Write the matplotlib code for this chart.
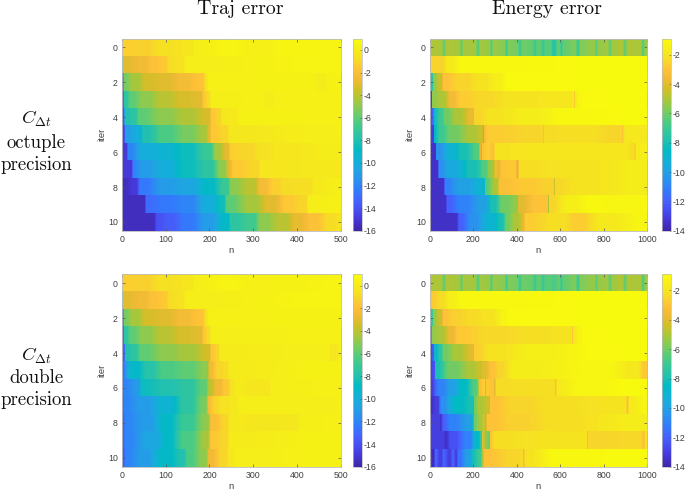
import numpy as np
import matplotlib
matplotlib.use('Agg')
import matplotlib.pyplot as plt
from matplotlib.colors import LinearSegmentedColormap, Normalize
from matplotlib.cm import ScalarMappable

plt.rcParams['font.family'] = ['Liberation Sans', 'DejaVu Sans']
plt.rcParams['mathtext.fontset'] = 'cm'
plt.rcParams['axes.unicode_minus'] = False

# Traj error, octuple precision : one list per iter
traj_oct_n = [
    [0, 50, 100, 160, 165, 250, 300, 400, 500],
    [0, 2, 3, 50, 70, 100, 105, 140, 145, 500],
    [0, 3, 5, 30, 60, 100, 140, 185, 190, 200, 440, 445, 465, 470, 500],
    [0, 3, 6, 20, 50, 100, 140, 180, 185, 200, 205, 320, 325, 345, 350, 500],
    [0, 4, 6, 30, 40, 100, 150, 200, 205, 225, 230, 260, 270, 500],
    [0, 5, 8, 40, 50, 100, 150, 190, 200, 205, 240, 245, 500],
    [0, 10, 15, 50, 100, 150, 200, 220, 240, 250, 290, 320, 360, 500],
    [0, 20, 25, 50, 100, 150, 200, 230, 245, 255, 310, 315, 500],
    [0, 30, 45, 100, 150, 200, 240, 250, 300, 320, 350, 375, 430, 440, 500],
    [0, 50, 55, 100, 150, 200, 230, 240, 300, 340, 380, 420, 425, 500],
    [0, 70, 80, 110, 150, 200, 240, 250, 300, 320, 370, 400, 440, 480, 500],
]
traj_oct_err = [
    [-1.3, -1.2, -0.6, -0.3, 0.2, 0.5, 0.3, 0.6, 0.5],
    [-7, -7, -3, -2.5, -1.8, -1.5, -0.8, -0.5, 0.2, 0.5],
    [-13, -13, -5.5, -4.5, -3.3, -3, -2.3, -1.7, -0.5, 0.3, 0.4, 0.1, 0.1, 0.4, 0.4],
    [-14, -13, -7.5, -6, -5, -4, -3.3, -3, -1.5, -0.8, 0.2, 0.3, 0.1, 0.1, 0.3, 0.3],
    [-14, -14, -8, -7.5, -6, -5, -4.3, -3.3, -1.5, -1, -0.2, -0.1, 0.4, 0.3],
    [-15, -14, -11, -10, -8, -6.5, -5.5, -4.5, -3, -1.5, -1, -0.2, 0.2],
    [-15, -15, -12, -10, -9.5, -8.5, -7, -4.5, -3, -1.2, -1, -0.6, -0.3, 0.1],
    [-15, -15, -12, -11, -10, -8.5, -7.5, -5, -3, -1.5, -1, -0.3, -0.1],
    [-15.5, -15, -12.5, -11, -10.5, -9, -7, -5, -4, -2.3, -1.3, -0.8, -0.7, -0.1, 0.2],
    [-15.5, -15.5, -13, -12.5, -12, -10, -8.5, -6, -4.5, -3, -1.5, -1, 0.2, 0.3],
    [-15.5, -15.5, -14, -13.5, -12.5, -11, -9, -7.5, -6.8, -5, -4, -2.8, -1.8, -0.8, -0.5],
]

# Traj error, double precision
traj_dbl_n = [
    [0, 50, 100, 160, 165, 250, 300, 400, 500],
    [0, 2, 3, 50, 70, 100, 105, 140, 145, 500],
    [0, 3, 5, 30, 60, 100, 140, 185, 190, 200, 500],
    [0, 3, 6, 20, 50, 100, 140, 180, 185, 200, 205, 500],
    [0, 5, 8, 30, 45, 100, 150, 200, 205, 220, 225, 470, 475, 490, 495, 500],
    [0, 10, 15, 30, 60, 100, 150, 195, 200, 225, 240, 245, 500],
    [0, 5, 40, 45, 100, 150, 190, 200, 220, 240, 250, 265, 300, 335, 340, 500],
    [0, 5, 50, 100, 150, 190, 200, 215, 230, 260, 270, 500],
    [0, 8, 60, 100, 150, 195, 205, 240, 245, 262, 300, 340, 400, 405, 500],
    [0, 8, 70, 100, 150, 195, 205, 240, 245, 500],
    [0, 10, 50, 100, 140, 150, 190, 200, 235, 245, 270, 500],
]
traj_dbl_err = [
    [-1.3, -1.2, -0.6, -0.3, 0.2, 0.5, 0.3, 0.4, 0.5],
    [-7, -7, -3, -2.5, -1.8, -1.5, -0.8, -0.5, 0.2, 0.5],
    [-13, -13, -5.5, -4.5, -3.3, -3, -2.3, -1.7, -0.5, 0.3, 0.4],
    [-14, -13, -7.5, -6, -5, -4, -3.3, -3, -1.5, -0.8, 0.2, 0.3],
    [-14, -13, -8, -7.5, -6, -5, -4.5, -3.5, -1.5, -1, 0, 0.2, -0.2, -0.2, 0.2, 0.2],
    [-13, -11, -9.5, -9, -7.8, -6.5, -6, -5, -2.5, -1, -0.8, 0, 0.4],
    [-13, -12, -11, -8.5, -8, -7.5, -6, -4, -2.5, -1.5, -0.5, 0, -0.3, -0.3, 0.2, 0.3],
    [-14, -12, -11, -9.5, -7.5, -5.5, -2, -1, -0.5, -0.2, 0.2, 0.2],
    [-14, -12, -11, -9, -7, -5, -2, -1, -0.2, -0.1, -0.3, -0.2, -0.2, 0.2, 0.3],
    [-14, -12, -10.5, -9, -6.5, -4.5, -1.5, -1, 0, 0.4],
    [-14, -12, -11, -9, -8, -6.5, -5, -2.5, -1, -0.3, 0.2, 0.4],
]

# Energy error, octuple precision
energy_oct_n = [
    [0, 52, 64, 76, 132, 144, 156, 209, 221, 233, 271, 283, 295, 340, 352, 364, 401, 413, 425, 470, 482, 494, 509, 521, 533, 555, 571, 587, 593, 605, 617, 670, 682, 694, 754, 766, 778, 816, 828, 840, 885, 897, 909, 970, 982, 994, 1000],
    [0, 5, 50, 90, 150, 1000],
    [0, 10, 15, 50, 60, 150, 250, 320, 360, 1000],
    [0, 5, 10, 60, 100, 150, 250, 400, 650, 660, 665, 670, 690, 700, 1000],
    [0, 10, 25, 50, 70, 130, 200, 205, 300, 450, 650, 1000],
    [0, 15, 20, 50, 100, 200, 240, 245, 250, 270, 500, 515, 520, 525, 700, 880, 885, 890, 900, 1000],
    [0, 25, 30, 100, 150, 220, 230, 235, 240, 255, 265, 290, 300, 500, 900, 930, 945, 950, 1000],
    [0, 30, 40, 100, 200, 260, 270, 290, 300, 320, 330, 390, 400, 410, 700, 1000],
    [0, 60, 70, 150, 250, 255, 310, 320, 450, 565, 570, 575, 700, 1000],
    [0, 70, 80, 150, 250, 290, 340, 400, 405, 500, 540, 545, 550, 650, 750, 900, 1000],
    [0, 120, 135, 200, 280, 330, 350, 400, 430, 440, 600, 680, 800, 1000],
]
energy_oct_err = [
    [-5, -5, -6.2, -5, -5.1, -6.5, -5.1, -5.2, -6.4, -5.2, -5.4, -6.6, -5.4, -5.6, -6.9, -5.8, -5.9, -6.9, -6, -6.2, -6.9, -6.2, -6.2, -7, -6.4, -6.4, -7.8, -6.4, -6.2, -7.2, -6.2, -5.8, -6.9, -5.7, -5.4, -6.4, -5.4, -5.2, -6.2, -5.2, -5, -6.2, -5, -5, -6.4, -5.2, -5.2],
    [-4, -2.5, -2.5, -1.7, -1.1, -0.9],
    [-8, -7.5, -5.5, -4.5, -3, -2.5, -2, -1.5, -1, -0.9],
    [-13, -13, -5.5, -5, -3.5, -2.7, -2.4, -2, -1.9, -1.7, -2.9, -1.7, -1.2, -1, -0.9],
    [-13, -12, -8, -7, -6, -5, -3.8, -2.5, -2, -1.6, -1.1, -0.9],
    [-13, -13, -8.5, -7, -6, -5, -4.5, -6, -3.3, -2.7, -2.5, -2.4, -3.2, -2.3, -2.2, -2.5, -3, -2.4, -1.8, -1.8],
    [-13.5, -13.5, -10.5, -9, -8, -6.5, -3.8, -5.5, -3, -2.8, -2.7, -3.2, -2, -1.9, -1.9, -2.2, -2.7, -1.7, -1.5],
    [-13.5, -13.5, -10.5, -9.5, -8, -6.5, -5.5, -5, -3.5, -4, -2.9, -2.8, -4.5, -2.2, -2, -1.6],
    [-13.5, -13.5, -11, -10, -9, -6.5, -5, -3.2, -2.8, -2.6, -4.5, -2.4, -2, -1.6],
    [-13.5, -13.5, -12, -11, -10, -8, -6, -5.5, -4, -3, -3, -5, -2.5, -1.5, -1.1, -1.2, -1.1],
    [-13.5, -13.5, -12, -10.5, -9, -8, -6, -5, -4, -2.7, -2.2, -2.7, -1.8, -1.2],
]

# Energy error, double precision
energy_dbl_n = [
    [0, 52, 64, 76, 132, 144, 156, 209, 221, 233, 271, 283, 295, 340, 352, 364, 401, 413, 425, 470, 482, 494, 509, 521, 533, 555, 571, 587, 593, 605, 617, 670, 682, 694, 754, 766, 778, 816, 828, 840, 885, 897, 909, 970, 982, 994, 1000],
    [0, 15, 50, 100, 150, 1000],
    [0, 10, 15, 50, 60, 120, 200, 280, 340, 360, 1000],
    [0, 5, 8, 50, 100, 130, 300, 500, 650, 655, 660, 690, 700, 1000],
    [0, 15, 20, 50, 60, 130, 200, 205, 300, 500, 800, 1000],
    [0, 20, 25, 100, 200, 225, 250, 290, 320, 400, 800, 950, 990, 1000],
    [0, 50, 100, 150, 210, 220, 225, 250, 255, 260, 290, 295, 305, 500, 570, 575, 585, 700, 1000],
    [0, 35, 40, 50, 130, 200, 205, 230, 270, 275, 400, 600, 900, 910, 920, 1000],
    [0, 40, 45, 60, 100, 190, 200, 205, 240, 245, 255, 265, 400, 600, 1000],
    [0, 60, 70, 100, 180, 220, 235, 240, 260, 270, 275, 300, 600, 720, 725, 730, 970, 985, 990, 1000],
    [0, 15, 25, 50, 60, 90, 100, 120, 130, 180, 200, 230, 240, 250, 400, 425, 430, 440, 600, 1000],
]
energy_dbl_err = [
    [-5, -5, -6.2, -5, -5.1, -6.5, -5.1, -5.2, -6.4, -5.2, -5.4, -6.6, -5.4, -5.6, -6.9, -5.8, -5.9, -6.9, -6, -6.2, -6.9, -6.2, -6.2, -7, -6.4, -6.4, -6.7, -6.4, -6.2, -7.2, -6.2, -5.8, -6.9, -5.7, -5.4, -6.4, -5.4, -5.2, -6.2, -5.2, -5, -6.2, -5, -5, -6.4, -5.2, -5.2],
    [-3, -2.7, -2.3, -1.5, -1.1, -0.9],
    [-8, -7, -5.5, -4.5, -3, -2.6, -2.3, -2, -1.3, -1, -0.9],
    [-13, -13, -5.5, -5, -3.7, -2.8, -2.4, -2.2, -2, -3, -1.8, -1.3, -1, -0.9],
    [-13, -12, -9, -7.5, -6, -5, -4, -2.7, -2, -1.5, -1, -0.9],
    [-13, -12.5, -8, -6, -5, -4.5, -4, -3, -2.5, -1.6, -1.2, -1.8, -2.8, -2.8],
    [-13, -11, -10, -8.5, -6.5, -5, -3.2, -2.6, -4.5, -2.8, -3, -4, -2.3, -2.2, -2.2, -3.2, -1.7, -1.2, -0.9],
    [-13.5, -13, -12, -10.5, -8.5, -8, -6, -5, -4.5, -3, -2.5, -2.2, -2, -3.2, -1.7, -1.2],
    [-13, -13, -13.5, -12, -11, -10, -8, -6, -5, -3.8, -5, -3, -2.6, -2.2, -1.6],
    [-13, -13, -13.5, -12.5, -11, -8.5, -7, -4, -5.5, -6, -3, -2.2, -2, -2, -3.3, -2.5, -2.4, -3, -2, -2],
    [-13, -13.8, -12, -13, -12, -13, -12, -13, -11.5, -10, -8, -7, -5, -3, -2.5, -2.3, -3.5, -2, -1.1, -0.9],
]

iter_ticks = [0, 2, 4, 6, 8, 10]
traj_ticks = [0, 100, 200, 300, 400, 500]
energy_ticks = [0, 200, 400, 600, 800, 1000]
traj_cticks = [-16, -14, -12, -10, -8, -6, -4, -2, 0]
energy_cticks = [-14, -12, -10, -8, -6, -4, -2]

# parula
parula = LinearSegmentedColormap.from_list('parula', [
    (0.2422, 0.1504, 0.6603), (0.2706, 0.2147, 0.8364), (0.2813, 0.3006, 0.9414),
    (0.2699, 0.3892, 0.9906), (0.1963, 0.4847, 0.9892), (0.1687, 0.5703, 0.9359),
    (0.1248, 0.6459, 0.8883), (0.0689, 0.6948, 0.8394), (0.0067, 0.7312, 0.7660),
    (0.1408, 0.7584, 0.6842), (0.2161, 0.7843, 0.5923), (0.3406, 0.8008, 0.4789),
    (0.5044, 0.7993, 0.3480), (0.6720, 0.7793, 0.2227), (0.8203, 0.7498, 0.1535),
    (0.9393, 0.7288, 0.2100), (0.9970, 0.7659, 0.2199), (0.9657, 0.8667, 0.1470),
    (0.9640, 0.9290, 0.1000), (0.9763, 0.9831, 0.0538)], N=256)

W, H = 685, 491
GREY = '#404040'


def panel(x0, x1, y0, y1, n_rows, err_rows, xmax, xticks, vmin, vmax, cx0, cx1, cticks):
    ax = fig.add_axes([x0/W, 1-y1/H, (x1-x0)/W, (y1-y0)/H])
    norm = Normalize(vmin, vmax)
    for i in range(len(n_rows)):
        n = n_rows[i]
        v = err_rows[i]
        # flat cells underneath so that thin segments never leave a gap
        ax.pcolormesh(n, [i-0.5, i+0.5], [v[:-1]], cmap=parula, norm=norm, shading='flat', zorder=0)
        for j in range(len(n)-1):
            ax.imshow([[v[j], v[j+1]]], extent=[n[j], n[j+1], i+0.5, i-0.5], aspect='auto', zorder=1,
                      cmap=parula, norm=norm, interpolation='bilinear', interpolation_stage='data')
    ax.set_xlim(0, xmax)
    ax.set_ylim(10.5, -0.5)
    ax.set_xticks(xticks)
    ax.set_yticks(iter_ticks)
    ax.tick_params(direction='in', length=2, width=0.5, top=True, right=True,
                   labelsize=6.3, labelcolor=GREY, color='#555555', pad=3)
    for s in ax.spines.values():
        s.set_linewidth(0.6)
        s.set_color('#bbbbbb')
    fig.text((x0+x1)/2/W, 1-(y1+19.5)/H, 'n', fontsize=6.8, color=GREY, ha='center', va='center')
    fig.text((x0-20)/W, 1-(y0+y1)/2/H, 'iter', fontsize=6.8, color=GREY, rotation=90, ha='center', va='center')

    cax = fig.add_axes([cx0/W, 1-y1/H, (cx1-cx0)/W, (y1-y0)/H])
    cb = fig.colorbar(ScalarMappable(norm=norm, cmap=parula), cax=cax)
    cb.set_ticks(cticks)
    cb.ax.tick_params(direction='in', length=1.5, width=0.4, labelsize=6.3,
                      labelcolor=GREY, color='#555555', pad=1.5)
    cb.outline.set_linewidth(0.5)
    cb.outline.set_edgecolor('#bbbbbb')


fig = plt.figure(figsize=(W/100, H/100), dpi=100)

panel(122, 340.7, 38.7, 230.7, traj_oct_n, traj_oct_err, 500, traj_ticks, -16, 1, 352.7, 362, traj_cticks)
panel(430, 647, 38.7, 230.7, energy_oct_n, energy_oct_err, 1000, energy_ticks, -14, -0.9, 661.7, 670.7, energy_cticks)
panel(122, 340.7, 274.3, 466.7, traj_dbl_n, traj_dbl_err, 500, traj_ticks, -16, 1, 352.7, 362, traj_cticks)
panel(430, 647, 274.3, 466.7, energy_dbl_n, energy_dbl_err, 1000, energy_ticks, -14, -0.9, 661.7, 670.7, energy_cticks)

fig.text(240/W, 1-9/H, 'Traj error', family='cmr10', fontsize=14.3, ha='center', va='center', color='#111111')
fig.text(547/W, 1-9/H, 'Energy error', family='cmr10', fontsize=14.3, ha='center', va='center', color='#111111')

for y, lab in [(119, r'$C_{\Delta t}$'), (143, 'octuple'), (165, 'precision'),
               (356, r'$C_{\Delta t}$'), (378, 'double'), (400, 'precision')]:
    fig.text(36/W, 1-y/H, lab, family='cmr10', fontsize=13.5, ha='center', va='center', color='#111111')

fig.savefig('out.png', dpi=100)
